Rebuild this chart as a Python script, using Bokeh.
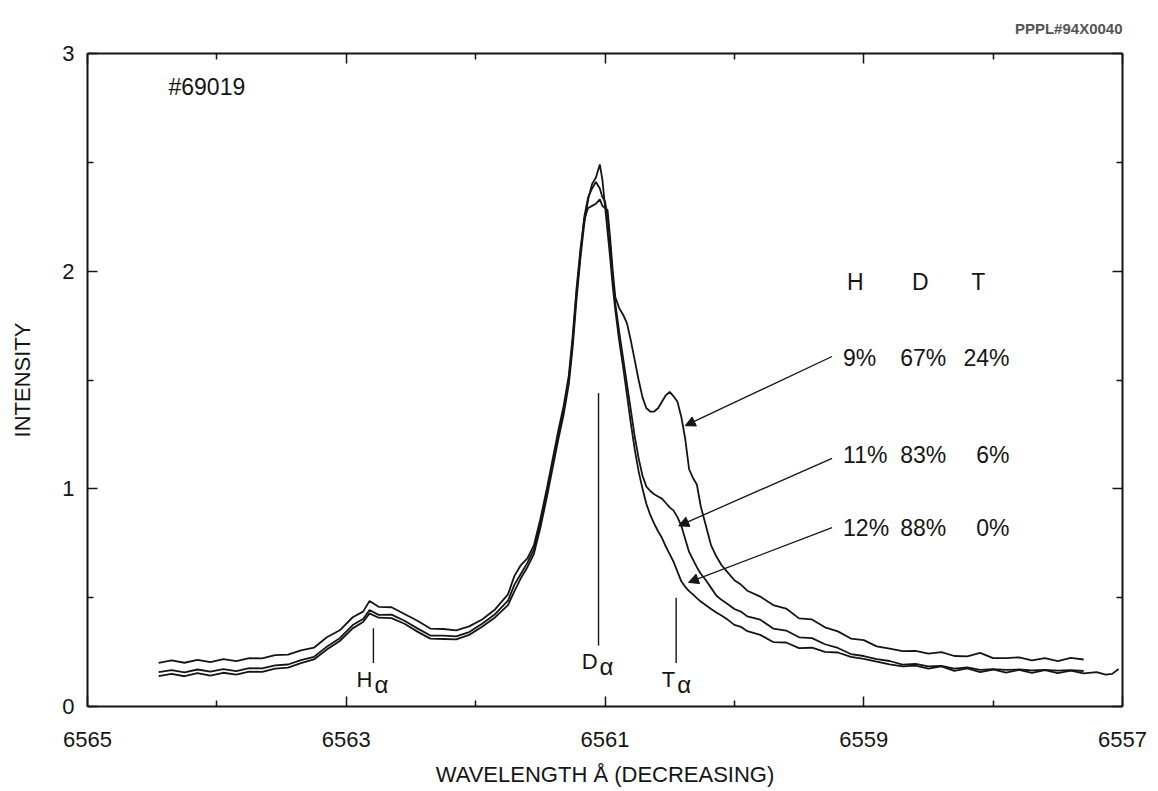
from bokeh.plotting import figure
from bokeh.models import (Range1d, FixedTicker, LinearAxis, Arrow, NormalHead, Title,
                          CustomJSTickFormatter)
from bokeh.embed import file_html
from bokeh.resources import INLINE
from bokeh.core.properties import value

FONT = "Liberation Sans"
INK = "#151515"

# Wavelength grid in Angstrom (decreasing)
wavelength = [
    6564.45, 6564.35, 6564.25, 6564.15, 6564.05, 6563.95, 6563.85, 6563.75, 6563.65, 6563.55,
    6563.45, 6563.35, 6563.25, 6563.15, 6563.05, 6562.95, 6562.87, 6562.82, 6562.75, 6562.65,
    6562.55, 6562.45, 6562.35, 6562.25, 6562.15, 6562.05, 6561.95, 6561.85, 6561.75,
    6561.70, 6561.65, 6561.60, 6561.55, 6561.50, 6561.45, 6561.40, 6561.36, 6561.32, 6561.28,
    6561.25, 6561.22, 6561.19, 6561.16, 6561.13, 6561.10, 6561.07, 6561.04, 6561.02, 6561.00,
    6560.98, 6560.96, 6560.94, 6560.92, 6560.89, 6560.86, 6560.83, 6560.80, 6560.77, 6560.74,
    6560.71, 6560.68, 6560.65, 6560.62, 6560.59, 6560.56, 6560.53, 6560.50, 6560.47, 6560.44,
    6560.41, 6560.38, 6560.35, 6560.32, 6560.29, 6560.26, 6560.22, 6560.18, 6560.14, 6560.10,
    6560.05, 6560.00,
    6559.95, 6559.90,
    6559.80, 6559.70, 6559.60, 6559.50, 6559.40, 6559.30, 6559.20, 6559.10, 6559.00, 6558.90,
    6558.80, 6558.70, 6558.60, 6558.50, 6558.40, 6558.30, 6558.20, 6558.10, 6558.00, 6557.90,
    6557.80, 6557.70, 6557.60, 6557.50, 6557.40, 6557.30,
]

# H 9% / D 67% / T 24%
intensity_t24 = [
    0.200, 0.212, 0.201, 0.214, 0.204, 0.218, 0.208, 0.222, 0.221, 0.236,
    0.238, 0.258, 0.270, 0.318, 0.350, 0.410, 0.436, 0.485, 0.458, 0.456,
    0.425, 0.394, 0.358, 0.356, 0.350, 0.368, 0.400, 0.446, 0.515,
    0.600, 0.650, 0.680, 0.740, 0.860, 1.000, 1.150, 1.270, 1.380, 1.520,
    1.700, 1.920, 2.100, 2.240, 2.290, 2.300, 2.310, 2.330, 2.300, 2.290,
    2.280, 2.150, 2.000, 1.880, 1.830, 1.800, 1.760, 1.680, 1.590, 1.500,
    1.420, 1.370, 1.355, 1.355, 1.370, 1.400, 1.430, 1.445, 1.425, 1.400,
    1.330, 1.230, 1.090, 1.050, 1.020, 0.920, 0.830, 0.740, 0.690, 0.650,
    0.615, 0.580,
    0.560, 0.532,
    0.505, 0.466, 0.450, 0.405, 0.400, 0.364, 0.345, 0.312, 0.305, 0.276,
    0.266, 0.254, 0.256, 0.243, 0.250, 0.232, 0.230, 0.246, 0.222, 0.222,
    0.226, 0.212, 0.222, 0.209, 0.223, 0.216,
]

# H 11% / D 83% / T 6%
intensity_t6 = [
    0.158, 0.167, 0.157, 0.170, 0.160, 0.172, 0.163, 0.176, 0.175, 0.189,
    0.193, 0.213, 0.228, 0.275, 0.314, 0.374, 0.402, 0.443, 0.421, 0.422,
    0.394, 0.359, 0.326, 0.326, 0.322, 0.342, 0.380, 0.424, 0.486,
    0.560, 0.610, 0.660, 0.720, 0.840, 0.980, 1.130, 1.250, 1.360, 1.500,
    1.680, 1.900, 2.080, 2.250, 2.340, 2.380, 2.410, 2.380, 2.340, 2.320,
    2.250, 2.120, 1.960, 1.850, 1.720, 1.600, 1.480, 1.360, 1.240, 1.140,
    1.060, 1.010, 0.990, 0.975, 0.965, 0.955, 0.935, 0.915, 0.900, 0.870,
    0.830, 0.770, 0.710, 0.675, 0.640, 0.610, 0.580, 0.545, 0.510, 0.490,
    0.470, 0.448,
    0.436, 0.414,
    0.399, 0.358, 0.349, 0.318, 0.314, 0.286, 0.269, 0.241, 0.232, 0.218,
    0.209, 0.192, 0.196, 0.184, 0.187, 0.174, 0.180, 0.168, 0.172, 0.168,
    0.170, 0.166, 0.168, 0.165, 0.167, 0.163,
]

# H 12% / D 88% / T 0%
intensity_t0 = [
    0.140, 0.150, 0.139, 0.153, 0.142, 0.155, 0.146, 0.160, 0.159, 0.174,
    0.179, 0.199, 0.216, 0.262, 0.301, 0.359, 0.388, 0.428, 0.408, 0.406,
    0.380, 0.344, 0.312, 0.310, 0.308, 0.329, 0.366, 0.409, 0.466,
    0.530, 0.590, 0.640, 0.700, 0.820, 0.960, 1.110, 1.230, 1.340, 1.480,
    1.650, 1.870, 2.060, 2.220, 2.330, 2.400, 2.430, 2.490, 2.420, 2.300,
    2.180, 2.060, 1.930, 1.820, 1.680, 1.560, 1.430, 1.300, 1.180, 1.080,
    1.000, 0.930, 0.880, 0.840, 0.805, 0.775, 0.735, 0.700, 0.665, 0.620,
    0.575, 0.550, 0.530, 0.515, 0.498, 0.482, 0.465, 0.448, 0.432, 0.418,
    0.398, 0.375,
    0.366, 0.346,
    0.329, 0.296, 0.294, 0.268, 0.270, 0.251, 0.248, 0.228, 0.219, 0.206,
    0.194, 0.184, 0.188, 0.174, 0.184, 0.164, 0.175, 0.158, 0.170, 0.156,
    0.168, 0.154, 0.167, 0.153, 0.165, 0.152,
]
# the last scan runs a little further to the red end
tail_wavelength = [6557.20, 6557.13, 6557.08, 6557.03]
tail_t0 = [0.158, 0.146, 0.150, 0.172]

# Balmer-alpha line markers
line_letter = ["H", "D", "T"]
line_wl = [6562.79, 6561.05, 6560.45]
line_top = [0.36, 1.44, 0.50]
line_bottom = [0.20, 0.28, 0.20]
letter_base = [0.124, 0.207, 0.125]
alpha_base = [0.101, 0.184, 0.102]

# isotope mix table
mix_header = ["H", "D", "T"]
mix_header_wl = [6559.065, 6558.563, 6558.114]
mix_h = ["9%", "11%", "12%"]
mix_d = ["67%", "83%", "88%"]
mix_t = ["24%", "6%", "0%"]
row_base = [1.600, 1.155, 0.820]
row_mid = [1.608, 1.140, 0.822]
# arrows from each table row to its spectrum
arrow_tip_wl = [6560.38, 6560.43, 6560.355]
arrow_tip_y = [1.29, 0.83, 0.57]

x_ticks = [6565, 6563, 6561, 6559, 6557]
x_minor = [6564, 6562, 6560, 6558]
y_ticks = [0, 1, 2, 3]
y_minor = [0.5, 1.5, 2.5]

p = figure(width=1158, height=791, output_backend="svg", toolbar_location=None,
           x_range=Range1d(6565, 6557), y_range=Range1d(0, 3),
           min_border_left=87, min_border_right=36, min_border_top=52, min_border_bottom=85)
p.xgrid.visible = False
p.ygrid.visible = False
p.outline_line_color = None
p.background_fill_color = "white"
p.border_fill_color = "white"

bottom_axis = p.below[0]
left_axis = p.left[0]

xt = FixedTicker(ticks=x_ticks, minor_ticks=x_minor)
yt = FixedTicker(ticks=y_ticks, minor_ticks=y_minor)
bottom_axis.ticker = xt
left_axis.ticker = yt
blank = CustomJSTickFormatter(code="return '';")
top_axis = LinearAxis(ticker=xt, formatter=blank)
right_axis = LinearAxis(ticker=yt, formatter=blank)
p.add_layout(top_axis, "above")
p.add_layout(right_axis, "right")

for ax in [bottom_axis, left_axis, top_axis, right_axis]:
    ax.axis_line_color = INK
    ax.axis_line_width = 2
    ax.major_tick_in = 10
    ax.major_tick_out = 0
    ax.minor_tick_in = 6
    ax.minor_tick_out = 0
    ax.major_tick_line_color = INK
    ax.minor_tick_line_color = INK
    ax.major_tick_line_width = 1.5
    ax.minor_tick_line_width = 1.5
    ax.major_label_text_font = FONT
    ax.major_label_text_color = INK
    ax.axis_label_text_font = FONT
    ax.axis_label_text_font_style = "normal"
    ax.axis_label_text_color = INK

bottom_axis.major_label_text_font_size = "22px"
bottom_axis.major_label_standoff = 25
bottom_axis.axis_label = "WAVELENGTH Å (DECREASING)"
bottom_axis.axis_label_text_font_size = "22px"
bottom_axis.axis_label_standoff = 12
left_axis.major_label_text_font_size = "22px"
left_axis.major_label_standoff = 13
left_axis.axis_label = "INTENSITY"
left_axis.axis_label_text_font_size = "22px"
left_axis.axis_label_standoff = 24

# spectra
p.line(wavelength, intensity_t24, line_color=INK, line_width=1.8)
p.line(wavelength, intensity_t6, line_color=INK, line_width=1.8)
p.line(wavelength + tail_wavelength, intensity_t0 + tail_t0, line_color=INK, line_width=1.8)

# line-position markers and their labels
p.segment(x0=line_wl, y0=line_bottom, x1=line_wl, y1=line_top, line_color=INK, line_width=1.4)
p.text(x=line_wl, y=letter_base, text=line_letter, text_font=value(FONT), text_font_size="22px",
       text_align="right", text_baseline="alphabetic", text_color=INK, x_offset=-1)
p.text(x=line_wl, y=alpha_base, text=["α"] * 3, text_font=value(FONT), text_font_size="24px",
       text_align="left", text_baseline="alphabetic", text_color=INK, x_offset=1)

# shot number
p.text(x=[6564.374], y=[2.846], text=["#69019"], text_font=value(FONT), text_font_size="23px",
       text_align="left", text_baseline="alphabetic", text_color=INK)

# isotope table
p.text(x=mix_header_wl, y=[1.948] * 3, text=mix_header, text_font=value(FONT),
       text_font_size="23px", text_align="center", text_baseline="alphabetic", text_color=INK)
p.text(x=[6559.16] * 3, y=row_base, text=mix_h, text_font=value(FONT), text_font_size="23px",
       text_align="left", text_baseline="alphabetic", text_color=INK)
p.text(x=[6558.54] * 3, y=row_base, text=mix_d, text_font=value(FONT), text_font_size="23px",
       text_align="center", text_baseline="alphabetic", text_color=INK)
p.text(x=[6557.874] * 3, y=row_base, text=mix_t, text_font=value(FONT), text_font_size="23px",
       text_align="right", text_baseline="alphabetic", text_color=INK)

for y0, x1, y1 in zip(row_mid, arrow_tip_wl, arrow_tip_y):
    p.add_layout(Arrow(x_start=6559.245, y_start=y0, x_end=x1, y_end=y1,
                       line_color=INK, line_width=1.3,
                       end=NormalHead(size=10, fill_color=INK, line_color=INK, line_width=1)))

# figure reference number in the top-right margin
p.add_layout(Title(text="PPPL#94X0040", align="right", text_font=FONT, text_font_size="15px",
                   text_font_style="bold", text_color="#555555", standoff=34), "above")

open("out.html", "w").write(file_html(p, INLINE))
